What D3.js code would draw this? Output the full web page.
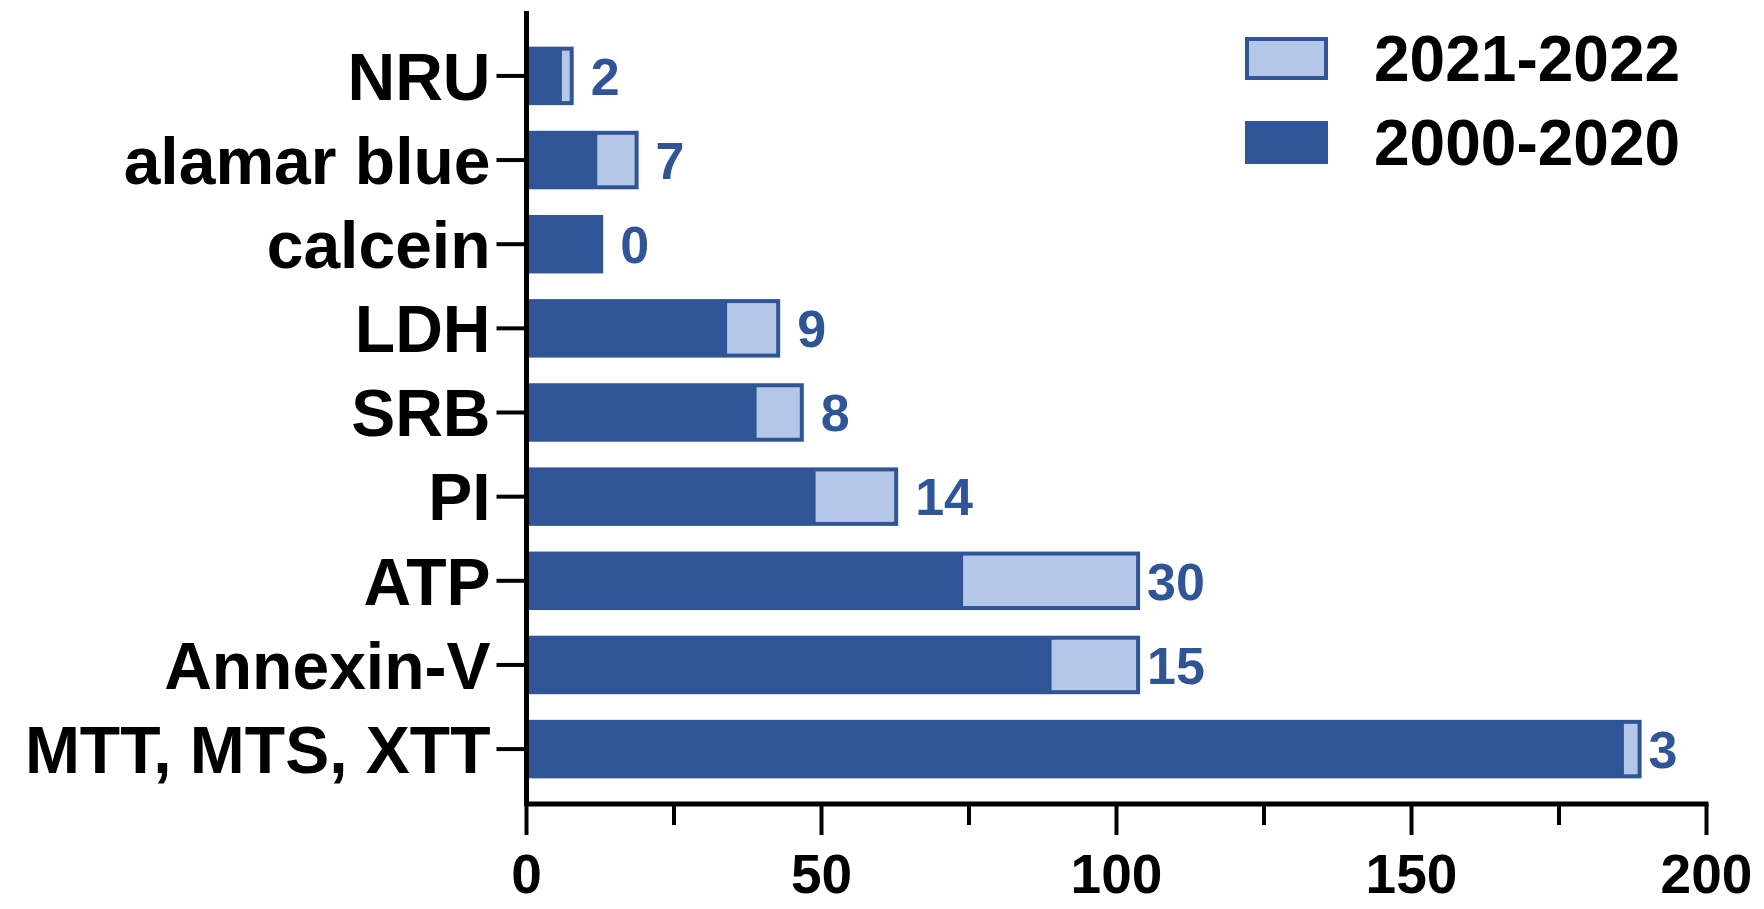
<!DOCTYPE html>
<html>
<head>
<meta charset="utf-8">
<script src="https://cdn.jsdelivr.net/npm/d3@7"></script>
<style>
  body { margin: 0; background: #fff; }
  svg text { font-family: "Liberation Sans", Arial, sans-serif; font-weight: bold; }
</style>
</head>
<body>
<div class="chart"></div>
<script>
// data
const categories = ["NRU", "alamar blue", "calcein", "LDH", "SRB", "PI", "ATP", "Annexin-V", "MTT, MTS, XTT"];
const older = [6, 12, 13, 34, 39, 49, 74, 89, 186];   // 2000-2020
const newer = [2, 7, 0, 9, 8, 14, 30, 15, 3];         // 2021-2022
const xTicks = [0, 50, 100, 150, 200];
const legendLabels = ["2021-2022", "2000-2020"];

const dark = "#2f5597", light = "#b4c7e7";

const W = 1764, H = 909;
const margin = {left: 526.5, right: 1706.5, top: 21, bottom: 804};

const svg = d3.select(".chart").append("svg")
    .attr("width", W).attr("height", H);

const x = d3.scaleLinear().domain([0, 200]).range([margin.left, margin.right]);
const y = d3.scaleBand().domain(categories).range([margin.top, margin.bottom]).padding(0.305);

const rows = categories.map((c, i) => ({cat: c, old: older[i], neu: newer[i], tot: older[i] + newer[i]}));

// bars: full dark bar, then the recent part as a light inset
const bars = svg.append("g");
bars.selectAll("rect.total").data(rows).enter().append("rect")
    .attr("x", x(0))
    .attr("y", d => y(d.cat))
    .attr("width", d => x(d.tot) - x(0))
    .attr("height", y.bandwidth())
    .attr("fill", dark);

const inset = 4;
bars.selectAll("rect.recent").data(rows.filter(d => d.neu > 0)).enter().append("rect")
    .attr("x", d => x(d.old))
    .attr("y", d => y(d.cat) + inset)
    .attr("width", d => Math.max(0, x(d.tot) - x(d.old) - inset))
    .attr("height", y.bandwidth() - 2 * inset)
    .attr("fill", light);

// value labels (count for 2021-2022)
svg.append("g").selectAll("text").data(rows).enter().append("text")
    .attr("x", d => x(d.tot) + (d.tot > 100 ? 7 : 17))
    .attr("y", d => y(d.cat) + y.bandwidth() / 2)
    .attr("dy", "0.36em")
    .attr("font-size", 52)
    .attr("fill", dark)
    .text(d => d.neu);

// x axis
const xg = svg.append("g").attr("transform", "translate(0," + margin.bottom + ")");
xg.append("line")
    .attr("x1", x(0) - 2).attr("x2", x(200) + 2)
    .attr("stroke", "#000").attr("stroke-width", 5);
xg.selectAll("line.minor").data(d3.range(0, 201, 25)).enter().append("line")
    .attr("x1", d => x(d)).attr("x2", d => x(d))
    .attr("y1", 0).attr("y2", d => d % 50 === 0 ? 31 : 21)
    .attr("stroke", "#000").attr("stroke-width", 4);
xg.selectAll("text").data(xTicks).enter().append("text")
    .attr("x", d => x(d))
    .attr("y", 69)
    .attr("dy", "0.36em")
    .attr("text-anchor", "middle")
    .attr("font-size", 55)
    .text(d => d);

// y axis
const yg = svg.append("g");
yg.append("line")
    .attr("x1", margin.left).attr("x2", margin.left)
    .attr("y1", 11).attr("y2", margin.bottom + 2)
    .attr("stroke", "#000").attr("stroke-width", 5);
yg.selectAll("line.tick").data(categories).enter().append("line")
    .attr("x1", margin.left - 30).attr("x2", margin.left)
    .attr("y1", d => y(d) + y.bandwidth() / 2)
    .attr("y2", d => y(d) + y.bandwidth() / 2)
    .attr("stroke", "#000").attr("stroke-width", 4);
yg.selectAll("text").data(categories).enter().append("text")
    .attr("x", margin.left - 36)
    .attr("y", d => y(d) + y.bandwidth() / 2)
    .attr("dy", "0.36em")
    .attr("text-anchor", "end")
    .attr("font-size", 66)
    .text(d => d);

// legend
const lg = svg.append("g");
const legendY = [58, 142];
lg.append("rect").attr("x", 1245).attr("y", legendY[0] - 21).attr("width", 83).attr("height", 43)
    .attr("fill", dark);
lg.append("rect").attr("x", 1249).attr("y", legendY[0] - 17).attr("width", 75).attr("height", 35)
    .attr("fill", light);
lg.append("rect").attr("x", 1245).attr("y", legendY[1] - 21).attr("width", 83).attr("height", 43)
    .attr("fill", dark);
lg.selectAll("text").data(legendLabels).enter().append("text")
    .attr("x", 1374)
    .attr("y", (d, i) => legendY[i])
    .attr("dy", "0.36em")
    .attr("font-size", 64)
    .text(d => d);
</script>
</body>
</html>
